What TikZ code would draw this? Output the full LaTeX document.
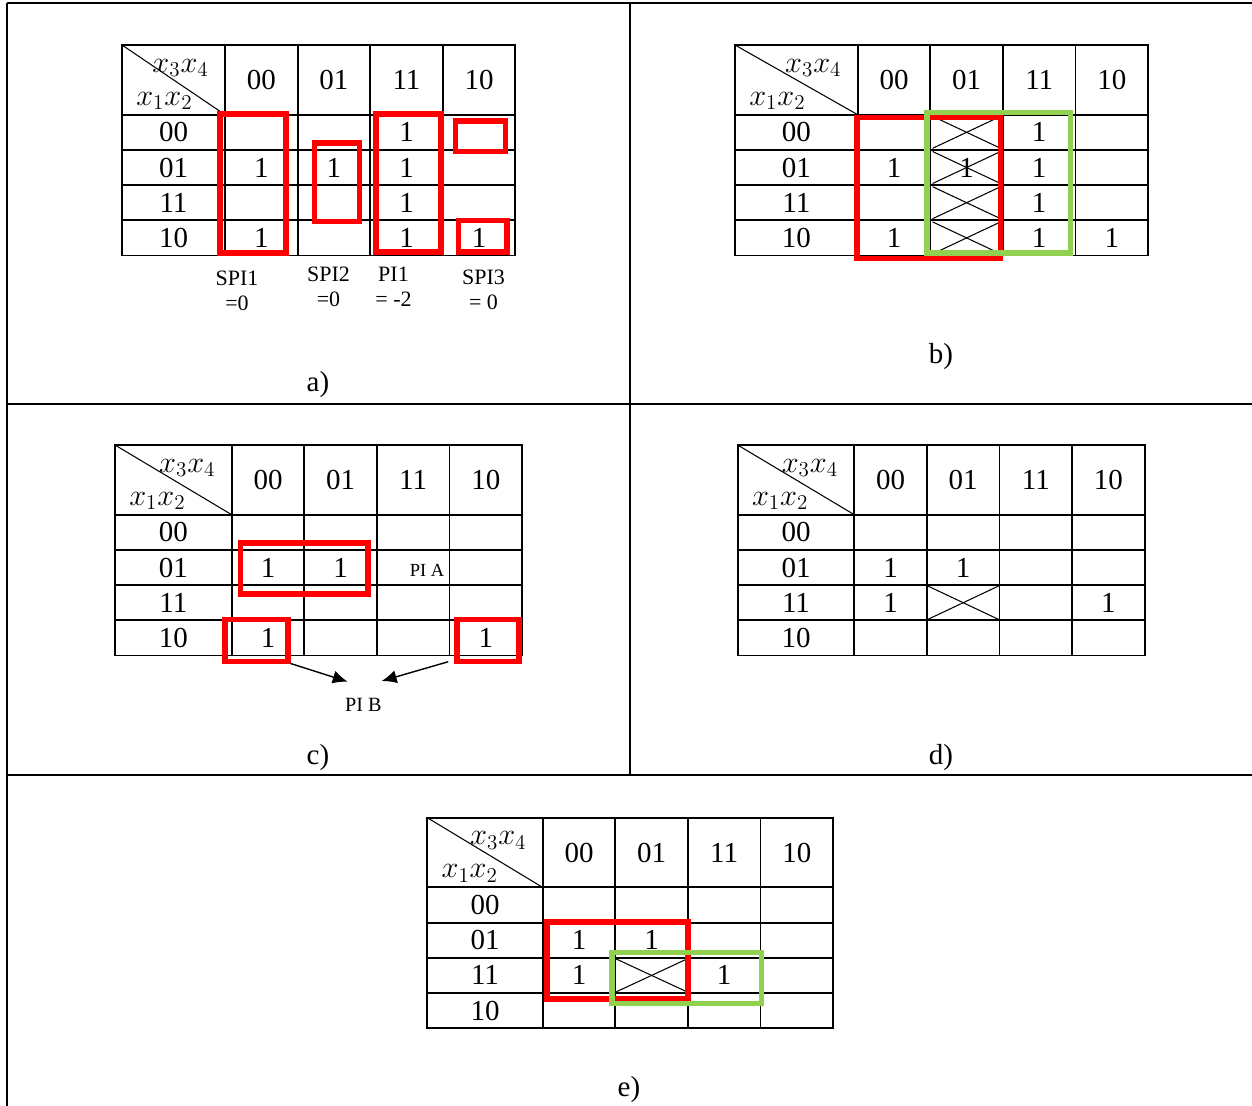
\documentclass[tikz,border=0pt]{standalone}
\usepackage{fontspec}
\setmainfont{Liberation Serif}
\usetikzlibrary{arrows.meta}
\definecolor{kred}{RGB}{255,0,0}
\definecolor{kgreen}{RGB}{146,208,80}
\tikzset{
  frame/.style={line width=1.6pt},
  grid/.style={line width=1.1pt},
  diag/.style={line width=0.6pt},
  crossx/.style={line width=0.6pt},
  redbox/.style={draw=kred, line width=3.3pt},
  greenbox/.style={draw=kgreen, line width=3pt},
  txt/.style={font=\fontsize{16.5}{18}\selectfont, inner sep=0pt},
  small/.style={font=\fontsize{12.5}{14.2}\selectfont, inner sep=0pt, align=center},
  arr/.style={line width=0.8pt, -{Latex[length=8.5pt,width=7.5pt]}},
}
\newcommand\kmap[4]{%
  \begin{scope}[shift={(#2,#3)}]
    \pgfmathsetmacro\kW{#4}
    \pgfmathsetmacro\kR{#4+290.4}
    \draw[grid] (0,0) rectangle (\kR,210.5);
    \foreach \k in {0,...,3} \draw[grid] ({\kW+72.6*\k},0) -- ({\kW+72.6*\k},210.5);
    \foreach \k in {0,...,3} \draw[grid] (0,{69.7+35.2*\k}) -- (\kR,{69.7+35.2*\k});
    \draw[diag] (0,0) -- (\kW,69.7);
    \node[txt, anchor=east] (#1-h34) at ({\kW-16},23) {$x_3x_4$};
    \node[txt, anchor=west] (#1-h12) at (14,56) {$x_1x_2$};
    \foreach \lab [count=\k from 0] in {00,01,11,10} {
      \node[txt] (#1-c\k) at ({\kW+72.6*(\k+0.5)},35) {\lab};
      \node[txt] (#1-r\k) at ({\kW/2},{69.7+35.2*(\k+0.5)}) {\lab};
    }
    \foreach \r in {0,...,3} \foreach \c in {0,...,3}
      \coordinate (#1-\r\c) at ({\kW+72.6*(\c+0.5)},{69.7+35.2*(\r+0.5)});
  \end{scope}}
\newcommand\kone[1]{\node[txt] at (#1) {1};}
\newcommand\kcross[3]{%
  \draw[crossx] ([shift={(-#2,-#3)}]#1) -- ([shift={(#2,#3)}]#1);
  \draw[crossx] ([shift={(-#2,#3)}]#1) -- ([shift={(#2,-#3)}]#1);}
\begin{document}
\begin{tikzpicture}[x=0.02cm,y=-0.02cm]
\useasboundingbox (0,0) rectangle (1252,1106);
% frame
\draw[frame] (7,3) -- (1252,3);
\draw[frame] (7,3) -- (7,1106);
\draw[frame] (630,3) -- (630,775);
\draw[frame] (7,404) -- (1252,404);
\draw[frame] (7,775) -- (1252,775);

% ---------- a)
\kmap{a}{122}{45}{103}
\kone{a-02}
\kone{a-10}\kone{a-11}\kone{a-12}
\kone{a-22}
\kone{a-30}\kone{a-32}\kone{a-33}
\draw[redbox] (219.7,114) rectangle (286.3,253);
\draw[redbox] (314.5,143) rectangle (359.5,221.5);
\draw[redbox] (376,114) rectangle (441,252);
\draw[redbox] (455.5,121) rectangle (505.5,151.5);
\draw[redbox] (458.5,220.5) rectangle (507,252);
\node[small] (spi1) at (237,291) {SPI1\\=0};
\node[small] (spi2) at (328.5,286.5) {SPI2\\=0};
\node[small] (pi1) at (393.5,286.5) {PI1\\= -2};
\node[small] (spi3) at (483.5,289.5) {SPI3\\= 0};
\node[txt] (la) at (318,385) {a)};

% ---------- b)
\kmap{b}{735}{45}{122.7}
\kone{b-02}
\kone{b-10}\kone{b-11}\kone{b-12}
\kone{b-22}
\kone{b-30}\kone{b-32}\kone{b-33}
\foreach \r in {0,...,3} {\kcross{b-\r1}{34}{16}}
\draw[redbox] (857,117.5) rectangle (1000.5,258.5);
\draw[greenbox] (927,112.5) rectangle (1070.5,253);
\node[txt] (lb) at (941,357) {b)};

% ---------- c)
\kmap{c}{115}{445}{116.7}
\kone{c-10}\kone{c-11}
\kone{c-30}\kone{c-33}
\node[font=\fontsize{10.5}{12}\selectfont, inner sep=0pt] (pia) at (427,570) {PI A};
\draw[redbox] (240.5,543) rectangle (368,594);
\draw[redbox] (225,619.5) rectangle (288,661.5);
\draw[redbox] (457,619.5) rectangle (519,661.5);
\node[font=\fontsize{11.5}{13}\selectfont, inner sep=0pt] (pib) at (363.3,705) {PI B};
\coordinate (pibL) at (290,663.3);
\coordinate (pibLt) at (347.7,681.7);
\coordinate (pibR) at (448.3,661.7);
\coordinate (pibRt) at (381.7,681);
\draw[arr] (pibL) -- (pibLt);
\draw[arr] (pibR) -- (pibRt);
\node[txt] (lc) at (318,758) {c)};

% ---------- d)
\kmap{d}{737.7}{445}{116.6}
\kone{d-10}\kone{d-11}
\kone{d-20}\kone{d-23}
\kcross{d-21}{36}{17}
\node[txt] (ld) at (941,758) {d)};

% ---------- e)
\kmap{e}{427.3}{817.7}{115.4}
\kone{e-10}\kone{e-11}
\kone{e-20}\kone{e-22}
\kcross{e-21}{35.5}{16.5}
\draw[redbox] (547,922) rectangle (687.7,998.7);
\draw[greenbox] (612,952.5) rectangle (761.5,1003.5);
\node[txt] (le) at (629,1090) {e)};
\end{tikzpicture}
\end{document}
